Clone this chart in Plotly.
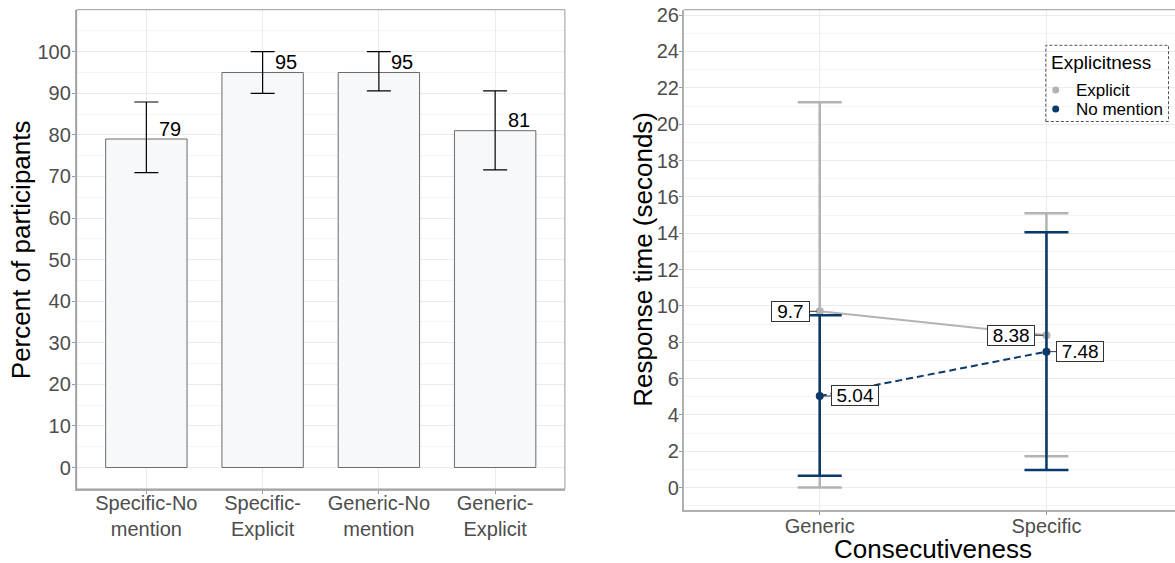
import plotly.graph_objects as go

# ---- data: share of participants per condition ----
conditions = ["Specific-No<br>mention", "Specific-<br>Explicit", "Generic-No<br>mention", "Generic-<br>Explicit"]
percent = [79, 95, 95, 81]
percent_upper = [87.9, 100.0, 100.0, 90.6]
percent_lower = [70.9, 90.0, 90.6, 71.6]

# ---- data: mean response time (seconds) with interval bounds ----
consecutiveness = ["Generic", "Specific"]
series_names = ["Explicit", "No mention"]
explicit_rt = [9.70, 8.38]
explicit_upper = [21.2, 15.1]
explicit_lower = [0.0, 1.72]
nomention_rt = [5.04, 7.48]
nomention_upper = [9.48, 14.05]
nomention_lower = [0.65, 0.97]

FONT = "Liberation Sans, Arial, sans-serif"
GREY = "#B3B3B3"
NAVY = "#0A3A6B"
SERIES_COLORS = [GREY, NAVY]
TICK_GREY = "#4D4D4D"
GRID = "#EBEBEB"
MINOR = "#F4F4F4"
W, H = 1175, 563

# panel boxes in pixels (left, right, top, bottom)
L_BOX = (76.6, 564.9, 9.7, 489.0)
R_BOX = (683.7, 1175.0, 9.7, 509.9)


def px_x(v):
    return v / W


def px_y(v):
    return 1 - v / H


def xdom(b):
    return [px_x(b[0]), px_x(b[1])]


def ydom(b):
    return [px_y(b[3]), px_y(b[2])]


fig = go.Figure()

# ---- left panel: bars with interval whiskers ----
bar_pos = list(range(1, len(conditions) + 1))
fig.add_trace(go.Bar(
    x=bar_pos, y=percent, width=0.7,
    marker=dict(color="#F7F8FA", line=dict(color="#6B6B6B", width=1)),
    error_y=dict(type="data", symmetric=False,
                 array=[u - v for u, v in zip(percent_upper, percent)],
                 arrayminus=[v - l for v, l in zip(percent, percent_lower)],
                 color="black", thickness=1.2, width=12),
    showlegend=False, xaxis="x", yaxis="y", hoverinfo="skip",
))

annotations = []
for p, v in zip(bar_pos, percent):
    annotations.append(dict(
        x=p + 0.09, y=v, xref="x", yref="y", text=str(v), showarrow=False,
        xanchor="left", yanchor="middle", yshift=10.5,
        font=dict(family=FONT, size=20, color="black"),
    ))

# ---- right panel: interaction plot ----
rt_pos = list(range(1, len(consecutiveness) + 1))


def err(mean, up, lo, color):
    return dict(type="data", symmetric=False,
                array=[u - m for u, m in zip(up, mean)],
                arrayminus=[m - l for m, l in zip(mean, lo)],
                thickness=2.5, width=22, color=color)


fig.add_trace(go.Scatter(
    x=rt_pos, y=explicit_rt, mode="lines",
    line=dict(color=GREY, width=2), showlegend=False,
    xaxis="x2", yaxis="y2", hoverinfo="skip",
))
fig.add_trace(go.Scatter(
    x=rt_pos, y=explicit_rt, mode="markers", name=series_names[0],
    marker=dict(color=GREY, size=8), showlegend=False,
    error_y=err(explicit_rt, explicit_upper, explicit_lower, GREY),
    xaxis="x2", yaxis="y2", hoverinfo="skip",
))
fig.add_trace(go.Scatter(
    x=rt_pos, y=nomention_rt, mode="lines",
    line=dict(color=NAVY, width=2, dash="7px,4px"), showlegend=False,
    xaxis="x2", yaxis="y2", hoverinfo="skip",
))
fig.add_trace(go.Scatter(
    x=rt_pos, y=nomention_rt, mode="markers", name=series_names[1],
    marker=dict(color=NAVY, size=8), showlegend=False,
    error_y=err(nomention_rt, nomention_upper, nomention_lower, NAVY),
    xaxis="x2", yaxis="y2", hoverinfo="skip",
))

# value labels beside each point (horizontal offsets in px)
label_offsets = {"Explicit": [-29, -35], "No mention": [35, 34]}
for series, vals in zip(series_names, (explicit_rt, nomention_rt)):
    for p, v, ax in zip(rt_pos, vals, label_offsets[series]):
        txt = f"{v:g}"
        annotations.append(dict(
            x=p, y=v, xref="x2", yref="y2", text=txt,
            showarrow=True, arrowhead=0, arrowwidth=1, arrowcolor="#333333",
            ax=ax, ay=0, standoff=3,
            bgcolor="white", bordercolor="#333333", borderwidth=1, borderpad=0,
            width=9.6 * len(txt) + 8, height=19,
            font=dict(family=FONT, size=19, color="black"),
        ))

# axis titles
annotations += [
    dict(x=px_x(21.8), y=px_y(249.4), xref="paper", yref="paper", text="Percent of participants",
         textangle=-90, showarrow=False, xanchor="center", yanchor="middle",
         font=dict(family=FONT, size=26, color="black")),
    dict(x=px_x(643), y=px_y(259.8), xref="paper", yref="paper", text="Response time (seconds)",
         textangle=-90, showarrow=False, xanchor="center", yanchor="middle",
         font=dict(family=FONT, size=26, color="black")),
    dict(x=px_x(932.5), y=px_y(549), xref="paper", yref="paper", text="Consecutiveness",
         showarrow=False, xanchor="center", yanchor="middle",
         font=dict(family=FONT, size=26, color="black")),
]

# legend block for the right panel
LEG_LEFT, LEG_RIGHT, LEG_TOP, LEG_BOTTOM = 1045.8, 1168.5, 45.3, 121.5
annotations.append(dict(
    x=px_x(1049), y=px_y(63), xref="paper", yref="paper", text="Explicitness",
    showarrow=False, xanchor="left", yanchor="middle",
    font=dict(family=FONT, size=19, color="black"),
))
shapes = []
for i, (name, col) in enumerate(zip(series_names, SERIES_COLORS)):
    cy = 90 + 19 * i
    shapes.append(dict(type="circle", xref="paper", yref="paper",
                       x0=px_x(1052.2), x1=px_x(1059.2), y0=px_y(cy + 3.5), y1=px_y(cy - 3.5),
                       fillcolor=col, line=dict(width=0), layer="above"))
    annotations.append(dict(
        x=px_x(1073.5), y=px_y(cy + 0.5), xref="paper", yref="paper", text=name,
        showarrow=False, xanchor="left", yanchor="middle",
        font=dict(family=FONT, size=17, color="black"),
    ))

shapes += [
    # panel frames
    dict(type="rect", xref="paper", yref="paper",
         x0=px_x(L_BOX[0]), x1=px_x(L_BOX[1]), y0=px_y(L_BOX[3]), y1=px_y(L_BOX[2]),
         line=dict(color="#9A9A9A", width=1), layer="above"),
    dict(type="line", xref="paper", yref="paper",
         x0=px_x(R_BOX[0]), x1=1.0, y0=px_y(R_BOX[2]), y1=px_y(R_BOX[2]),
         line=dict(color="#9A9A9A", width=1), layer="above"),
    # dashed legend frame
    dict(type="rect", xref="paper", yref="paper",
         x0=px_x(LEG_LEFT), x1=px_x(LEG_RIGHT), y0=px_y(LEG_BOTTOM), y1=px_y(LEG_TOP),
         line=dict(color="#555555", width=1, dash="3px,2px"), layer="above"),
]

axis_common = dict(
    showgrid=True, gridcolor=GRID, gridwidth=1, zeroline=False,
    showline=True, linecolor="#B0B0B0", linewidth=1.5,
    ticks="outside", ticklen=3, tickcolor="#9A9A9A", tickwidth=1,
    tickfont=dict(family=FONT, size=20, color=TICK_GREY),
    automargin=False,
)

fig.update_layout(
    width=W, height=H, margin=dict(l=0, r=0, t=0, b=0, autoexpand=False),
    paper_bgcolor="white", plot_bgcolor="white", showlegend=False,
    xaxis=dict(axis_common, domain=xdom(L_BOX), anchor="y", range=[0.4, 4.6],
               tickvals=bar_pos, ticktext=conditions, ticklabelstandoff=-8),
    yaxis=dict(axis_common, domain=ydom(L_BOX), anchor="x", range=[-5.17, 110.1],
               tickvals=list(range(0, 101, 10)), ticklabelstandoff=-3,
               minor=dict(dtick=5, tick0=0, showgrid=True, gridcolor=MINOR, ticks="")),
    xaxis2=dict(axis_common, domain=xdom(R_BOX), anchor="y2", range=[0.4, 2.567],
                tickvals=rt_pos, ticktext=consecutiveness, ticklabelstandoff=-6),
    yaxis2=dict(axis_common, domain=ydom(R_BOX), anchor="x2", range=[-1.23, 26.3],
                tickvals=list(range(0, 27, 2)), ticklabelstandoff=-4,
                minor=dict(dtick=1, tick0=0, showgrid=True, gridcolor=MINOR, ticks="")),
    annotations=annotations,
    shapes=shapes,
)

fig.write_html("out.html")
